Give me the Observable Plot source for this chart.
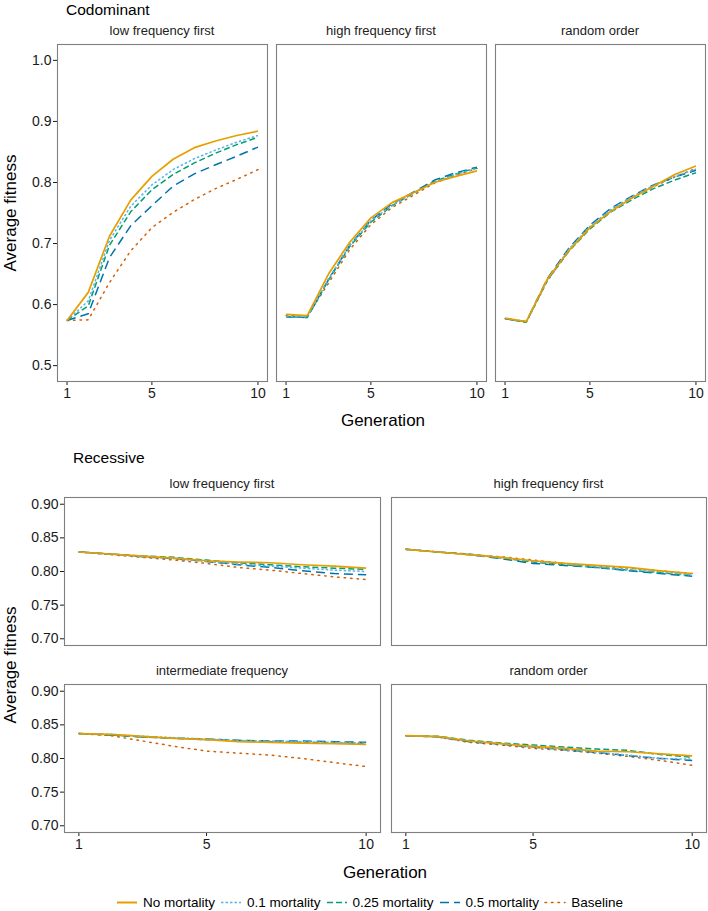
<!DOCTYPE html>
<html>
<head>
<meta charset="utf-8">
<script src="https://cdn.jsdelivr.net/npm/d3@7"></script>
<script src="https://cdn.jsdelivr.net/npm/@observablehq/plot@0.6"></script>
<style>
  html, body { margin: 0; padding: 0; background: white; }
  #chart { position: relative; width: 708px; height: 911px; font-family: "Liberation Sans", Arial, sans-serif; color: #000; overflow: hidden; font-weight: 400; }
  .t { position: absolute; white-space: nowrap; transform: translate(-50%, -50%); }
  .tl { position: absolute; white-space: nowrap; transform: translate(0, -50%); }
  .rot { position: absolute; white-space: nowrap; transform: translate(-50%, -50%) rotate(-90deg); }
  .strip { color: #222; }
  #legend { position: absolute; display: flex; align-items: center; font-size: 13.5px; transform: translate(0, -50%); }
  #legend .item { display: flex; align-items: center; margin-right: 5px; }
  #legend svg { margin-right: 5px; }
</style>
</head>
<body>
<div id="chart"></div>
<script>
// ---------- data ----------
const generations = [1, 2, 3, 4, 5, 6, 7, 8, 9, 10];
const seriesNames = ["No mortality", "0.1 mortality", "0.25 mortality", "0.5 mortality", "Baseline"];
const codTicksY = [0.5, 0.6, 0.7, 0.8, 0.9, 1.0];
const recTicksY = [0.70, 0.75, 0.80, 0.85, 0.90];
const genTicks = [1, 5, 10];

// Codominant – low frequency first  (rows follow seriesNames)
const codLowNone = [0.574, 0.620, 0.712, 0.771, 0.810, 0.838, 0.857, 0.868, 0.877, 0.884];
const codLowM01  = [0.574, 0.606, 0.705, 0.761, 0.796, 0.821, 0.839, 0.853, 0.866, 0.877];
const codLowM025 = [0.574, 0.598, 0.697, 0.752, 0.788, 0.813, 0.832, 0.848, 0.862, 0.874];
const codLowM05  = [0.574, 0.585, 0.677, 0.729, 0.762, 0.794, 0.814, 0.829, 0.843, 0.858];
const codLowBase = [0.574, 0.575, 0.636, 0.688, 0.726, 0.751, 0.772, 0.790, 0.805, 0.821];
// Codominant – high frequency first
const codHighNone = [0.584, 0.582, 0.650, 0.702, 0.742, 0.767, 0.783, 0.800, 0.810, 0.819];
const codHighM01  = [0.581, 0.580, 0.642, 0.697, 0.737, 0.763, 0.782, 0.801, 0.813, 0.823];
const codHighM025 = [0.580, 0.579, 0.640, 0.695, 0.735, 0.762, 0.782, 0.802, 0.814, 0.824];
const codHighM05  = [0.580, 0.579, 0.641, 0.697, 0.738, 0.765, 0.784, 0.804, 0.816, 0.825];
const codHighBase = [0.582, 0.581, 0.635, 0.690, 0.731, 0.759, 0.779, 0.799, 0.812, 0.823];
// Codominant – random order
const codRandNone = [0.578, 0.572, 0.642, 0.688, 0.726, 0.753, 0.775, 0.794, 0.813, 0.827];
const codRandM01  = [0.577, 0.572, 0.641, 0.690, 0.728, 0.756, 0.777, 0.795, 0.810, 0.822];
const codRandM025 = [0.577, 0.571, 0.640, 0.687, 0.724, 0.752, 0.772, 0.790, 0.804, 0.816];
const codRandM05  = [0.577, 0.572, 0.643, 0.692, 0.730, 0.758, 0.778, 0.796, 0.809, 0.820];
const codRandBase = [0.577, 0.571, 0.639, 0.688, 0.726, 0.754, 0.775, 0.793, 0.809, 0.823];
// Recessive – low frequency first
const recLowNone = [0.829, 0.826, 0.823, 0.820, 0.816, 0.814, 0.813, 0.810, 0.808, 0.805];
const recLowM01  = [0.829, 0.826, 0.822, 0.819, 0.815, 0.811, 0.808, 0.805, 0.802, 0.800];
const recLowM025 = [0.829, 0.826, 0.823, 0.821, 0.817, 0.813, 0.810, 0.807, 0.805, 0.803];
const recLowM05  = [0.829, 0.826, 0.822, 0.819, 0.815, 0.810, 0.806, 0.801, 0.797, 0.795];
const recLowBase = [0.829, 0.825, 0.821, 0.817, 0.812, 0.806, 0.802, 0.797, 0.792, 0.788];
// Recessive – high frequency first
const recHighNone = [0.833, 0.829, 0.825, 0.821, 0.816, 0.812, 0.809, 0.806, 0.801, 0.797];
const recHighM01  = [0.833, 0.829, 0.825, 0.821, 0.815, 0.811, 0.807, 0.803, 0.799, 0.795];
const recHighM025 = [0.833, 0.829, 0.826, 0.820, 0.814, 0.810, 0.806, 0.802, 0.798, 0.794];
const recHighM05  = [0.833, 0.829, 0.825, 0.819, 0.812, 0.809, 0.806, 0.801, 0.797, 0.793];
const recHighBase = [0.833, 0.829, 0.825, 0.822, 0.817, 0.812, 0.808, 0.805, 0.801, 0.797];
// Recessive – intermediate frequency
const recMidNone = [0.837, 0.836, 0.833, 0.830, 0.828, 0.825, 0.824, 0.823, 0.822, 0.821];
const recMidM01  = [0.837, 0.836, 0.833, 0.831, 0.829, 0.827, 0.826, 0.825, 0.824, 0.823];
const recMidM025 = [0.837, 0.835, 0.832, 0.830, 0.828, 0.826, 0.825, 0.824, 0.823, 0.822];
const recMidM05  = [0.837, 0.835, 0.832, 0.830, 0.829, 0.827, 0.826, 0.826, 0.825, 0.824];
const recMidBase = [0.837, 0.834, 0.826, 0.818, 0.811, 0.808, 0.805, 0.800, 0.794, 0.788];
// Recessive – random order
const recRandNone = [0.834, 0.833, 0.826, 0.822, 0.818, 0.815, 0.811, 0.810, 0.807, 0.804];
const recRandM01  = [0.834, 0.832, 0.826, 0.822, 0.817, 0.813, 0.809, 0.805, 0.800, 0.799];
const recRandM025 = [0.834, 0.833, 0.827, 0.823, 0.820, 0.817, 0.814, 0.812, 0.806, 0.802];
const recRandM05  = [0.834, 0.832, 0.825, 0.821, 0.817, 0.813, 0.809, 0.804, 0.800, 0.797];
const recRandBase = [0.834, 0.832, 0.824, 0.820, 0.815, 0.812, 0.808, 0.803, 0.797, 0.790];

// ---------- styles ----------
const seriesColors = ["#E69F00", "#56B4E9", "#009E73", "#0072B2", "#D55E00"];
const seriesDash = [null, "2.5,2", "6,3", "9,5", "1.5,5"];
const drawOrder = [4, 3, 2, 1, 0];
const FONT = "'Liberation Sans', Arial, sans-serif";

const chart = document.getElementById("chart");

function addText(cls, x, y, txt, size) {
  const d = document.createElement("div");
  d.className = cls;
  d.style.left = x + "px";
  d.style.top = y + "px";
  d.style.fontSize = size + "px";
  d.textContent = txt;
  chart.appendChild(d);
}

function panel({left, top, width, height, yDomain, yTicks, yFormat, yAxis, xAxis, values, strip}) {
  const ML = yAxis ? 46 : 1, MR = 1, MT = 1, MB = xAxis ? 30 : 1;
  const marks = [Plot.frame({stroke: "#7f7f7f", strokeWidth: 1.1})];
  for (const i of drawOrder) {
    const rows = generations.map((g, j) => ({gen: g, value: values[i][j]}));
    marks.push(Plot.line(rows, {
      x: "gen", y: "value", stroke: seriesColors[i], strokeWidth: i === 0 ? 1.7 : 1.5,
      strokeDasharray: seriesDash[i] || undefined, strokeLinecap: i === 4 ? "round" : "butt"
    }));
  }
  const svg = Plot.plot({
    width: width + ML + MR, height: height + MT + MB,
    marginLeft: ML, marginRight: MR, marginTop: MT, marginBottom: MB,
    x: xAxis ? {domain: [0.55, 10.45], ticks: genTicks, tickSize: 4, tickPadding: 3, label: null}
             : {domain: [0.55, 10.45], axis: null},
    y: yAxis ? {domain: yDomain, ticks: yTicks, tickFormat: yFormat, tickSize: 4, tickPadding: 2, label: null}
             : {domain: yDomain, axis: null},
    style: {background: "none", overflow: "visible", fontFamily: FONT, fontSize: "14px", color: "#1a1a1a", maxWidth: "none"},
    marks
  });
  svg.style.position = "absolute";
  svg.style.left = (left - ML) + "px";
  svg.style.top = (top - MT) + "px";
  chart.appendChild(svg);
  addText("t strip", left + width / 2, top - 14, strip, 13);
}

// ---------- Codominant ----------
const codTop = 44, codH = 337, codW = 210;
const codDomain = [0.474, 1.026];
const codLefts = [57, 276, 495];
panel({left: codLefts[0], top: codTop, width: codW, height: codH, yDomain: codDomain, yTicks: codTicksY, yFormat: d3.format(".1f"),
  yAxis: true, xAxis: true, strip: "low frequency first", values: [codLowNone, codLowM01, codLowM025, codLowM05, codLowBase]});
panel({left: codLefts[1], top: codTop, width: codW, height: codH, yDomain: codDomain,
  yAxis: false, xAxis: true, strip: "high frequency first", values: [codHighNone, codHighM01, codHighM025, codHighM05, codHighBase]});
panel({left: codLefts[2], top: codTop, width: codW, height: codH, yDomain: codDomain,
  yAxis: false, xAxis: true, strip: "random order", values: [codRandNone, codRandM01, codRandM025, codRandM05, codRandBase]});
addText("tl", 66, 10, "Codominant", 15.5);
addText("rot", 11, codTop + codH / 2, "Average fitness", 17);
addText("t", 383, codTop + codH + 40, "Generation", 17);

// ---------- Recessive ----------
const recW = 316, recH = 148;
const recDomain = [0.69, 0.91];
const recLefts = [64, 391];
const recTops = [497, 684];
panel({left: recLefts[0], top: recTops[0], width: recW, height: recH, yDomain: recDomain, yTicks: recTicksY, yFormat: d3.format(".2f"),
  yAxis: true, xAxis: false, strip: "low frequency first", values: [recLowNone, recLowM01, recLowM025, recLowM05, recLowBase]});
panel({left: recLefts[1], top: recTops[0], width: recW - 1, height: recH, yDomain: recDomain,
  yAxis: false, xAxis: false, strip: "high frequency first", values: [recHighNone, recHighM01, recHighM025, recHighM05, recHighBase]});
panel({left: recLefts[0], top: recTops[1], width: recW, height: recH, yDomain: recDomain, yTicks: recTicksY, yFormat: d3.format(".2f"),
  yAxis: true, xAxis: true, strip: "intermediate frequency", values: [recMidNone, recMidM01, recMidM025, recMidM05, recMidBase]});
panel({left: recLefts[1], top: recTops[1], width: recW - 1, height: recH, yDomain: recDomain,
  yAxis: false, xAxis: true, strip: "random order", values: [recRandNone, recRandM01, recRandM025, recRandM05, recRandBase]});
addText("tl", 73, 458, "Recessive", 15.5);
addText("rot", 11, (recTops[0] + recTops[1] + recH) / 2, "Average fitness", 17);
addText("t", 385, recTops[1] + recH + 41, "Generation", 17);

// ---------- Legend ----------
const legend = document.createElement("div");
legend.id = "legend";
legend.style.left = "116px";
legend.style.top = "902px";
seriesNames.forEach((name, i) => {
  const item = document.createElement("div");
  item.className = "item";
  const ns = "http://www.w3.org/2000/svg";
  const s = document.createElementNS(ns, "svg");
  s.setAttribute("width", 22); s.setAttribute("height", 10);
  const l = document.createElementNS(ns, "line");
  l.setAttribute("x1", 1); l.setAttribute("x2", 21); l.setAttribute("y1", 5); l.setAttribute("y2", 5);
  l.setAttribute("stroke", seriesColors[i]); l.setAttribute("stroke-width", i === 0 ? 1.8 : 1.6);
  if (seriesDash[i]) l.setAttribute("stroke-dasharray", seriesDash[i]);
  if (i === 4) l.setAttribute("stroke-linecap", "round");
  s.appendChild(l);
  const t = document.createElement("span");
  t.textContent = name;
  item.appendChild(s); item.appendChild(t);
  legend.appendChild(item);
});
chart.appendChild(legend);
</script>
</body>
</html>
